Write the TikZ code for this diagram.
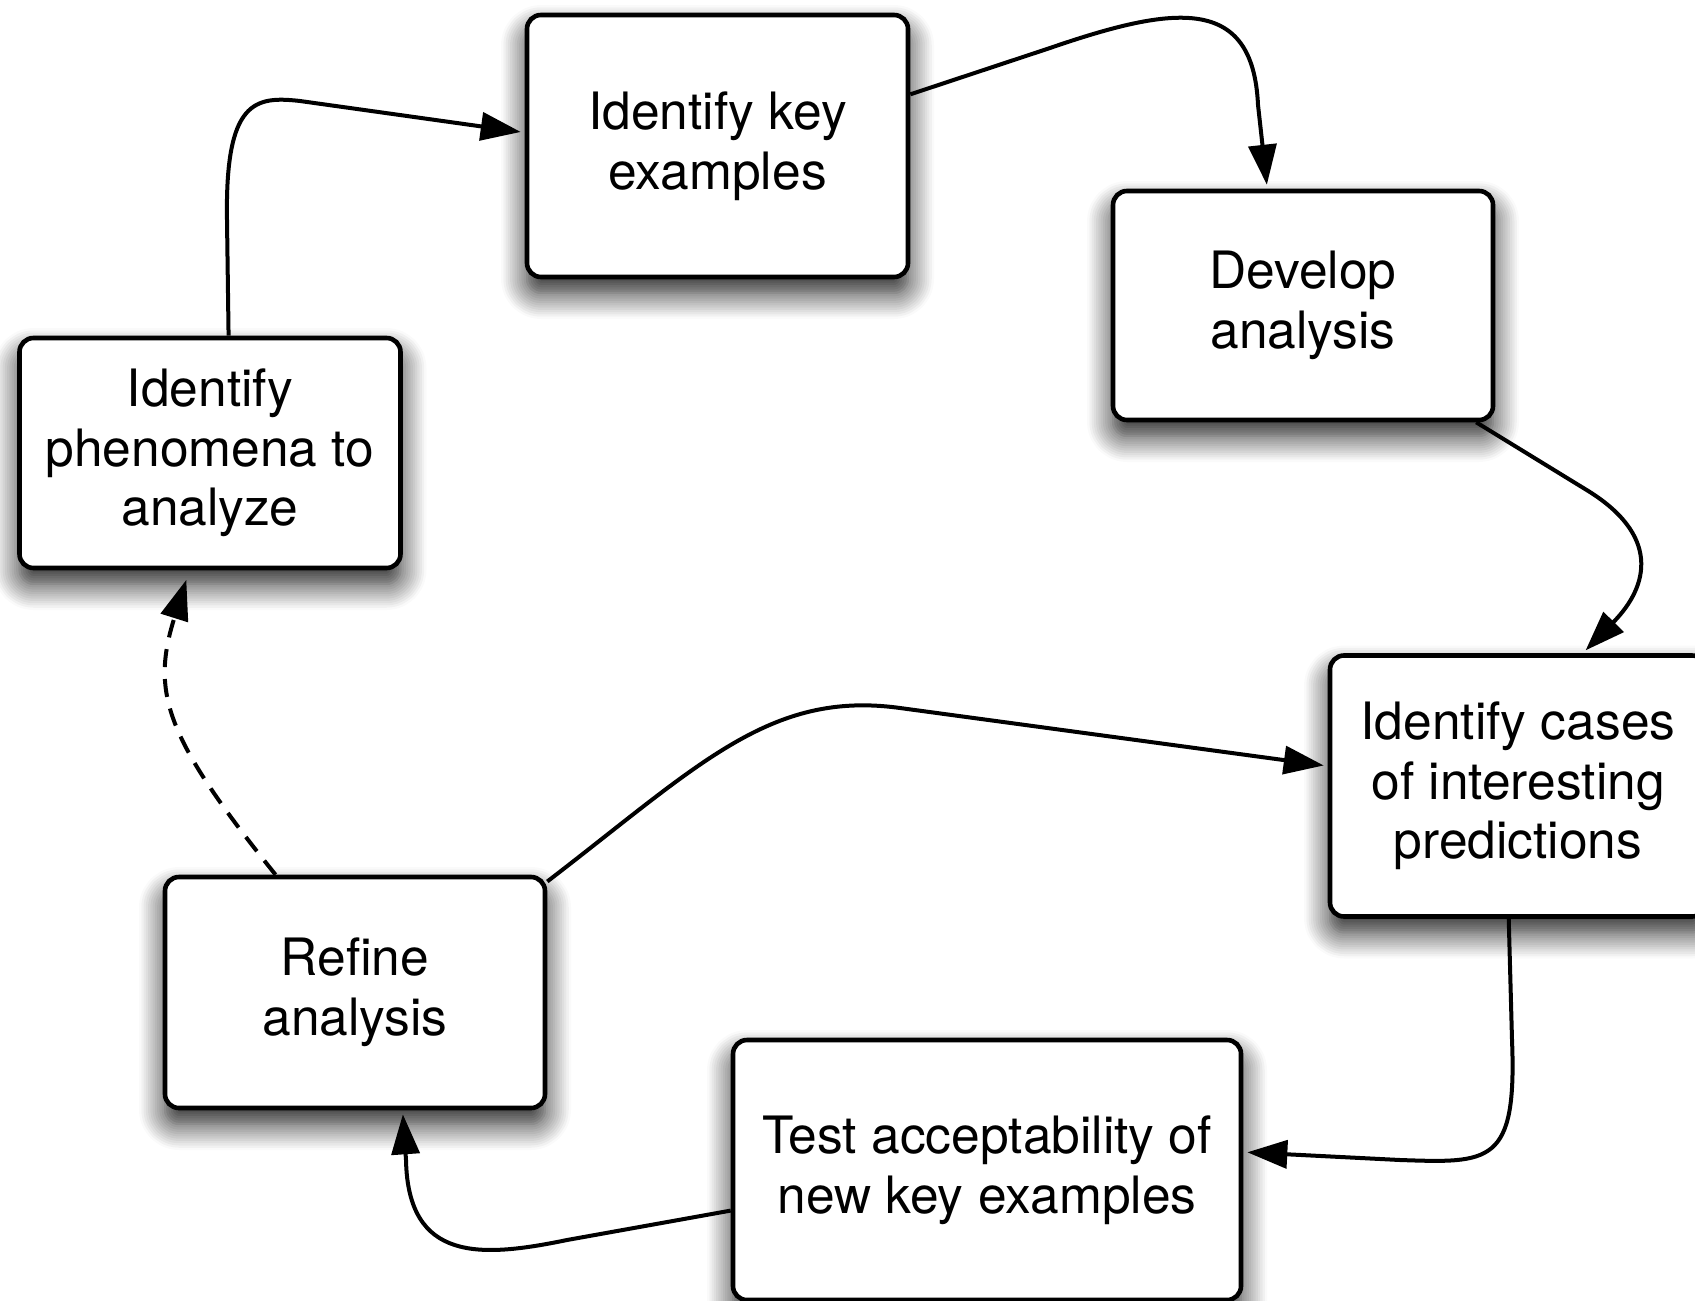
\documentclass[tikz,border=0pt]{standalone}
\usepackage{fontspec}
\setmainfont{TeX Gyre Heros}
\usetikzlibrary{arrows.meta,shadows.blur}

\begin{document}
\begin{tikzpicture}[x=0.5pt,y=-0.5pt,
	box/.style={draw,rounded corners=7pt,line width=2.3pt,fill=white,align=center,inner sep=0,font=\fontsize{25.75}{29.8}\selectfont,
		blur shadow={shadow xshift=0pt,shadow yshift=-8pt,shadow blur radius=13pt,shadow blur steps=12,shadow opacity=90}},
	link/.style={line width=2pt,-{Triangle[length=20pt,width=14pt]},shorten >=2pt}]
	\useasboundingbox (0,0) rectangle (1695,1300);
	\node[box,minimum width=190.5pt,minimum height=115pt] (1) at (210,453) {Identify\\phenomena to\\analyze};
	\node[box,minimum width=190.5pt,minimum height=131pt] (2) at (717.5,146) {Identify key\\examples};
	\node[box,minimum width=190pt,minimum height=114.5pt] (3) at (1303,305.5) {Develop\\analysis};
	\node[box,minimum width=188pt,minimum height=130.5pt] (4) at (1518,786) {Identify cases\\of interesting\\predictions};
	\node[box,minimum width=254pt,minimum height=130pt] (5) at (987,1170) {Test acceptability of\\new key examples};
	\node[box,minimum width=190pt,minimum height=115.5pt] (6) at (355,992.5) {Refine\\analysis};
	\draw[link] (1.81) -- (227,220) .. controls (225,100) and (255,96) .. (300,101) -- (2.176);
	\draw[link] (2.15) -- (1050,48) .. controls (1175,5) and (1253,-5) .. (1258,105) -- (3.107);
	\draw[link] (3.-34) -- (1585,489) .. controls (1660,534) and (1650,585) .. (4.64);
	\draw[link] (4.-94) -- (1512,1040) .. controls (1517,1165) and (1490,1163) .. (1400,1160) -- (5.4);
	\draw[link] (5.189) -- (567,1240) .. controls (480,1258) and (408,1262) .. (406,1160) -- (6.-68);
	\draw[link] (6.30) .. controls (699,765) and (770,690) .. (900,708) -- (4.174);
	\draw[link,dash pattern=on 9pt off 6pt,shorten >=5pt] (6.124) .. controls (164,736) and (151,692) .. (1.-100);
\end{tikzpicture}
\end{document}
